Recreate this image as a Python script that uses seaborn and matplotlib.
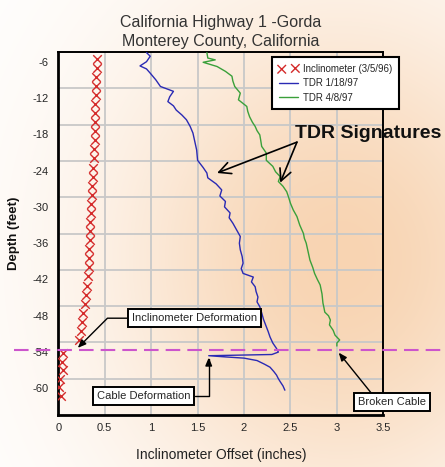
import numpy as np
import matplotlib
matplotlib.use("Agg")
import matplotlib.pyplot as plt
import seaborn as sns

# ---------------- data ----------------
incl_depth = [-5.5, -7.0, -8.5, -10.0, -11.5, -13.0, -14.5, -16.0, -17.5, -19.0,
              -20.5, -22.0, -23.5, -25.0, -26.5, -28.0, -29.5, -31.0, -32.5, -34.0,
              -35.5, -37.0, -38.5, -40.0, -41.5, -43.0, -44.5, -46.0, -47.5, -49.0,
              -50.5, -52.0,
              -54.2, -55.6, -57.0, -58.4, -59.8, -61.2]
incl_offset = [0.42, 0.42, 0.41, 0.41, 0.41, 0.40, 0.40, 0.40, 0.39, 0.39,
               0.38, 0.38, 0.37, 0.37, 0.36, 0.36, 0.35, 0.35, 0.34, 0.34,
               0.34, 0.33, 0.33, 0.33, 0.32, 0.31, 0.30, 0.29, 0.27, 0.26,
               0.24, 0.22,
               0.05, 0.04, 0.05, 0.02, 0.01, 0.03]

tdr1_depth = [-4.5, -5.1, -6.0, -6.7, -7.2, -7.9, -9.0, -10.1, -10.9, -11.8,
              -12.6, -13.3, -14.0, -14.8, -15.6, -16.7, -17.8, -19.2, -20.6, -22.3,
              -23.5, -24.4, -25.2, -26.2, -27.2, -28.2, -29.1, -30.0, -31.0, -31.8,
              -32.7, -33.8, -34.9, -36.0, -37.1, -38.2, -39.3, -40.2, -41.0, -41.6,
              -42.4, -43.2, -44.0, -44.9, -45.7, -46.5, -47.5, -48.6, -49.8, -50.6,
              -51.5, -52.5, -53.4, -54.0, -54.4, -54.6, -54.8, -55.0, -55.4, -56.0,
              -56.5, -57.2, -57.8, -58.4, -58.9, -59.6, -60.3]
tdr1_offset = [0.95, 0.99, 0.95, 0.88, 0.95, 0.99, 1.05, 1.10, 1.24, 1.20,
               1.18, 1.24, 1.27, 1.33, 1.38, 1.42, 1.45, 1.47, 1.49, 1.50,
               1.56, 1.60, 1.61, 1.70, 1.76, 1.74, 1.80, 1.79, 1.85, 1.84,
               1.88, 1.92, 1.96, 1.95, 1.96, 1.98, 1.99, 1.97, 1.99, 2.10,
               2.08, 2.12, 2.13, 2.15, 2.14, 2.17, 2.19, 2.21, 2.24, 2.26,
               2.28, 2.31, 2.35, 2.37, 2.30, 1.62, 1.80, 2.00, 2.14, 2.22,
               2.28, 2.32, 2.35, 2.37, 2.39, 2.42, 2.44]

tdr2_depth = [-4.5, -5.4, -5.7, -6.1, -6.8, -7.6, -8.4, -9.2, -10.1, -11.2,
              -12.3, -13.4, -14.2, -15.1, -16.0, -16.7, -17.4, -18.1, -19.0, -20.0,
              -21.1, -22.3, -23.3, -24.2, -25.0, -25.8, -26.6, -27.5, -28.4, -29.4,
              -30.5, -31.6, -33.0, -34.4, -35.2, -36.0, -37.4, -38.8, -40.0, -41.0,
              -42.0, -42.9, -44.4, -45.9, -46.6, -47.4, -48.0, -48.7, -49.5, -50.4,
              -51.2, -52.0, -52.5, -53.0]
tdr2_offset = [1.60, 1.61, 1.69, 1.56, 1.71, 1.80, 1.87, 1.88, 1.90, 1.96,
               1.94, 2.03, 2.04, 2.06, 2.09, 2.12, 2.14, 2.17, 2.18, 2.19,
               2.24, 2.24, 2.31, 2.34, 2.39, 2.37, 2.42, 2.46, 2.48, 2.50,
               2.53, 2.57, 2.60, 2.64, 2.65, 2.67, 2.69, 2.71, 2.74, 2.76,
               2.79, 2.82, 2.84, 2.85, 2.86, 2.87, 2.91, 2.93, 2.92, 2.96,
               2.98, 3.03, 3.00, 3.00]

deformation_depth = -53.7

x_ticks = [0, 0.5, 1, 1.5, 2, 2.5, 3, 3.5]
x_tick_labels = ["0", "0.5", "1", "1.5", "2", "2.5", "3", "3.5"]
y_ticks = [-6, -12, -18, -24, -30, -36, -42, -48, -54, -60]
y_tick_labels = ["-6", "-12", "-18", "-24", "-30", "-36", "-42", "-48", "-54", "-60"]
y_grid = [-10.4, -16.4, -22.4, -28.4, -34.4, -40.4, -46.4, -52.4, -58.4]

series_labels = ["Inclinometer (3/5/96)", "TDR 1/18/97", "TDR 4/8/97"]

# ---------------- style ----------------
sns.set_theme(style="white")
plt.rcParams["font.family"] = ["Liberation Sans", "DejaVu Sans"]

RED = "#d42a2a"
BLUE = "#2a2ab4"
GREEN = "#3aa03a"
MAGENTA = "#cc55cc"

W, H = 445, 467
fig = plt.figure(figsize=(W / 100, H / 100), dpi=100)

# background gradient
bg = fig.add_axes([0, 0, 1, 1], zorder=-10)
yy, xx = np.mgrid[0:H, 0:W]
wgt = np.exp(-((xx - 340) / 230.0) ** 2 - ((yy - 260) / 260.0) ** 2)
peach = np.array([248, 212, 178]) / 255.0
img = 1 - wgt[..., None] * (1 - peach)
bg.imshow(img, aspect="auto", extent=[0, 1, 0, 1])
bg.axis("off")

ax = fig.add_axes([58.3 / W, 1 - 415 / H, 325 / W, 363 / H])
ax.set_facecolor("none")

sns.scatterplot(x=incl_offset, y=incl_depth, marker="x", s=38, color=RED,
                linewidth=1.0, label=series_labels[0], ax=ax, zorder=3)
sns.lineplot(x=tdr1_offset, y=tdr1_depth, sort=False, estimator=None,
             color=BLUE, lw=1.0, label=series_labels[1], ax=ax, zorder=3)
sns.lineplot(x=tdr2_offset, y=tdr2_depth, sort=False, estimator=None,
             color=GREEN, lw=1.0, label=series_labels[2], ax=ax, zorder=3)

ax.set_xlim(0, 3.5)
ax.set_ylim(-64.4, -4.4)
ax.set_xticks(x_ticks)
ax.set_xticklabels(x_tick_labels, fontsize=8)
ax.set_yticks(y_ticks)
ax.set_yticklabels(y_tick_labels, fontsize=8)
ax.set_yticks(y_grid, minor=True)
ax.tick_params(which="both", length=0)
ax.tick_params(axis="y", pad=7)
ax.tick_params(axis="x", pad=6)
ax.grid(False)
ax.xaxis.grid(True, which="major", color="#c8c8c8", lw=1.3)
ax.yaxis.grid(True, which="minor", color="#c8c8c8", lw=1.3)
ax.set_axisbelow(True)
for side, sp in ax.spines.items():
    sp.set_visible(True)
    sp.set_color("black")
    sp.set_linewidth(2.0 if side in ("left", "bottom") else 1.4)

ax.axhline(deformation_depth, xmin=-0.135, xmax=1.19, color=MAGENTA, lw=1.5,
           ls=(0, (7, 3.4)), clip_on=False, zorder=4)

ax.set_title("California Highway 1 -Gorda\nMonterey County, California",
             fontsize=11.5, color="#333333", linespacing=1.4, pad=4)
ax.set_xlabel("Inclinometer Offset (inches)", fontsize=10, color="#222222")
ax.xaxis.set_label_coords(0.5, -0.09)
ax.set_ylabel("Depth (feet)", fontsize=9.5, fontweight="bold", color="#111111")
ax.yaxis.set_label_coords(-0.118, 0.5)

leg = ax.legend(loc="upper left", bbox_to_anchor=(272 / W, 1 - 57 / H),
                bbox_transform=fig.transFigure, frameon=True, fancybox=False,
                edgecolor="black", framealpha=1, fontsize=7, scatterpoints=2,
                handlelength=2.0, borderaxespad=0, borderpad=0.7,
                labelspacing=0.45, handletextpad=0.5)
leg.get_frame().set_linewidth(1.5)
leg.set_zorder(6)

box = dict(boxstyle="square,pad=0.35", fc="white", ec="black", lw=1.4)

ax.text(2.55, -17.8, "TDR Signatures", ha="left", va="center", fontsize=14,
        fontweight="bold", color="#111111", clip_on=False, zorder=6)
for tip in [(1.71, -24.4), (2.39, -26.0)]:
    ax.annotate("", xy=tip, xytext=(2.57, -19.3),
                arrowprops=dict(arrowstyle="->,head_length=0.7,head_width=0.35",
                                color="black", lw=1.2, shrinkA=0, shrinkB=0),
                zorder=6)

ax.annotate("Inclinometer Deformation", xy=(0.21, -53.3), xytext=(1.47, -48.4),
            ha="center", va="center", fontsize=8, bbox=box, zorder=7,
            arrowprops=dict(arrowstyle="-|>,head_length=0.6,head_width=0.25",
                            color="black", lw=1.0, relpos=(0, 0.5),
                            connectionstyle="angle,angleA=180,angleB=45,rad=0",
                            shrinkA=0, shrinkB=0))
ax.annotate("Cable Deformation", xy=(1.62, -54.9), xytext=(0.915, -61.2),
            ha="center", va="center", fontsize=8, bbox=box, zorder=7,
            arrowprops=dict(arrowstyle="-|>,head_length=0.6,head_width=0.25",
                            color="black", lw=1.0, relpos=(1, 0.5),
                            connectionstyle="angle,angleA=0,angleB=90,rad=0",
                            shrinkA=0, shrinkB=0))
ax.annotate("Broken Cable", xy=(3.02, -54.1), xytext=(3.59, -62.3),
            ha="center", va="center", fontsize=8, bbox=box, zorder=7,
            annotation_clip=False,
            arrowprops=dict(arrowstyle="-|>,head_length=0.6,head_width=0.25",
                            color="black", lw=1.0, relpos=(0.25, 1),
                            shrinkA=0, shrinkB=0))

fig.savefig("out.png", dpi=100)
